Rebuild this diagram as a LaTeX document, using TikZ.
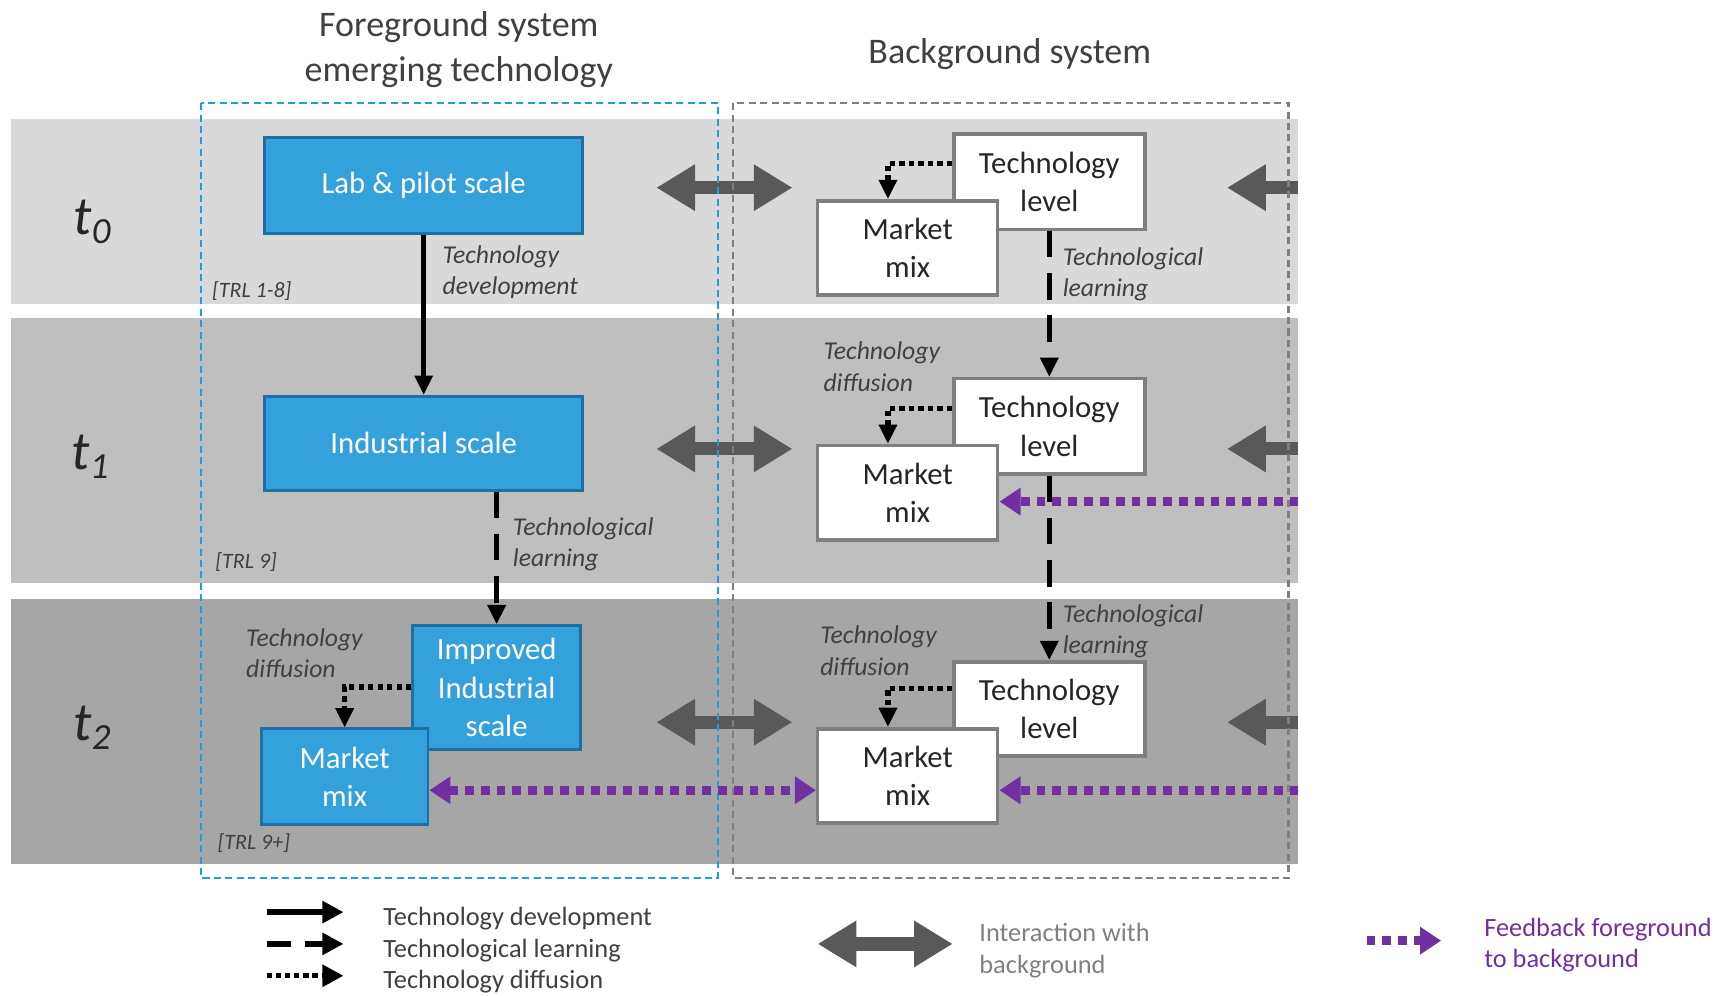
\documentclass[tikz,border=0pt]{standalone}
\usepackage{fontspec}
\setmainfont{Carlito}
\usetikzlibrary{arrows.meta}
\definecolor{bandA}{HTML}{D9D9D9}
\definecolor{bandB}{HTML}{BFBFBF}
\definecolor{bandC}{HTML}{A6A6A6}
\definecolor{fgblue}{HTML}{34A1DC}
\definecolor{fgborder}{HTML}{1F6FA3}
\definecolor{fgdash}{HTML}{1F9DE0}
\definecolor{bgdash}{HTML}{7F7F7F}
\definecolor{boxgray}{HTML}{7F7F7F}
\definecolor{txtdark}{HTML}{262626}
\definecolor{lblgray}{HTML}{404040}
\definecolor{arrgray}{HTML}{595959}
\definecolor{fbpurple}{HTML}{7030A0}
\definecolor{legray}{HTML}{808080}
\begin{document}
\begin{tikzpicture}[x=0.021952cm,y=-0.021952cm,
  fgbox/.style={draw=fgborder, line width=1.5pt, fill=fgblue, text=white,
    font=\fontsize{17.5}{21.8}\selectfont, align=center, inner sep=0pt},
  bgbox/.style={draw=boxgray, line width=2pt, fill=white, text=txtdark,
    font=\fontsize{17.5}{21.8}\selectfont, align=center, inner sep=0pt},
  lbl/.style={font=\fontsize{14.6}{18}\selectfont\itshape, text=lblgray, align=left, anchor=west, inner sep=0pt},
  trl/.style={font=\fontsize{12.5}{15}\selectfont\itshape, text=lblgray, anchor=west, inner sep=0pt},
  title/.style={font=\fontsize{20.5}{25.5}\selectfont, text=lblgray, align=center, inner sep=0pt},
  tlab/.style={font=\fontsize{31}{31}\selectfont\itshape, text=txtdark, inner sep=0pt},
  legtext/.style={font=\fontsize{15}{18}\selectfont, text=lblgray, align=left, anchor=west, inner sep=0pt},
  devarrow/.style={line width=2.5pt, -{Triangle[length=11pt,width=10pt]}},
  learnarrow/.style={line width=3pt, dash pattern=on 15pt off 9pt, -{Triangle[length=11pt,width=10pt]}},
  diffarrow/.style={line width=3pt, dash pattern=on 3pt off 2.4pt, -{Triangle[length=11pt,width=10pt]}},
  fbarrow/.style={draw=fbpurple, line width=5pt, dash pattern=on 5pt off 4pt, -{Triangle[length=12pt,width=15pt]}},
  fbdouble/.style={fbarrow, {Triangle[length=12pt,width=15pt]}-{Triangle[length=12pt,width=15pt]}},
  garrow/.style={draw=arrgray, line width=7.5pt, {Triangle[length=22pt,width=25pt]}-{Triangle[length=22pt,width=25pt]}},
  gleft/.style={draw=arrgray, line width=7.5pt, -{Triangle[length=22pt,width=25pt]}},
  fgframe/.style={draw=fgdash, line width=1.4pt, dash pattern=on 4pt off 2.5pt},
  bgframe/.style={draw=bgdash, line width=1.4pt, dash pattern=on 4pt off 2.5pt}
]
\useasboundingbox (0,0) rectangle (1568,907);

% bands
\fill[bandA] (10,108) rectangle (1183,277);
\fill[bandB] (10,290) rectangle (1183,531);
\fill[bandC] (10,546) rectangle (1183,787);

% titles
\node[title] (tfg) at (418,45) {Foreground system\\emerging technology};
\node[title] (tbg) at (920,49) {Background system};

% time labels
\node[tlab] (t0) at (84,202) {t\raisebox{-5pt}{\fontsize{21}{21}\selectfont 0}};
\node[tlab] (t1) at (82,416) {t\raisebox{-5pt}{\fontsize{21}{21}\selectfont 1}};
\node[tlab] (t2) at (84,663) {t\raisebox{-5pt}{\fontsize{21}{21}\selectfont 2}};

% interaction arrows
\coordinate (ia0l) at (598,171); \coordinate (ia0r) at (722,171);
\coordinate (ia1l) at (598,409); \coordinate (ia1r) at (722,409);
\coordinate (ia2l) at (598,658); \coordinate (ia2r) at (722,658);
\draw[garrow] (ia0l) -- (ia0r);
\draw[garrow] (ia1l) -- (ia1r);
\draw[garrow] (ia2l) -- (ia2r);
\coordinate (ra0s) at (1183,171); \coordinate (ra0e) at (1118,171);
\coordinate (ra1s) at (1183,409); \coordinate (ra1e) at (1118,409);
\coordinate (ra2s) at (1183,658); \coordinate (ra2e) at (1118,658);
\draw[gleft] (ra0s) -- (ra0e);
\draw[gleft] (ra1s) -- (ra1e);
\draw[gleft] (ra2s) -- (ra2e);

% frames
\draw[fgframe] (183,94) rectangle (654,800);
\draw[bgframe] (668,94) rectangle (1174,800);

% foreground boxes
\node[fgbox, minimum width=6.366cm, minimum height=1.932cm] (lab) at (386,169) {Lab \& pilot scale};
\node[fgbox, minimum width=6.366cm, minimum height=1.888cm] (ind) at (386,404) {Industrial scale};
\node[fgbox, minimum width=3.359cm, minimum height=2.481cm] (imp) at (452.5,626.5) {Improved\\Industrial\\scale};
\node[fgbox, minimum width=3.337cm, minimum height=1.910cm] (fmm) at (314,707.5) {Market\\mix};

% background boxes
\node[bgbox, minimum width=3.820cm, minimum height=1.910cm] (tl0) at (956,165.5) {Technology\\level};
\node[bgbox, minimum width=3.600cm, minimum height=1.888cm] (mm0) at (827,226) {Market\\mix};
\node[bgbox, minimum width=3.820cm, minimum height=1.910cm] (tl1) at (956,388.5) {Technology\\level};
\node[bgbox, minimum width=3.600cm, minimum height=1.888cm] (mm1) at (827,449) {Market\\mix};
\node[bgbox, minimum width=3.820cm, minimum height=1.888cm] (tl2) at (956,646) {Technology\\level};
\node[bgbox, minimum width=3.600cm, minimum height=1.888cm] (mm2) at (827,707) {Market\\mix};

% TRL labels
\node[trl] (trl0) at (193,265) {[TRL 1-8]};
\node[trl] (trl1) at (196,512) {[TRL 9]};
\node[trl] (trl2) at (198,768) {[TRL 9+]};

% foreground connectors
\draw[devarrow] (lab.south) -- (ind.north);
\draw[learnarrow] (imp.north |- ind.south) -- (imp.north);
\coordinate (fd) at (314,626);
\draw[diffarrow] (imp.west |- fd) -- (fd) -- (fmm.north);

% background connectors
\draw[learnarrow] (tl0.south) -- (tl1.north);
\draw[learnarrow] (tl1.south) -- (tl2.north);
\coordinate (d0) at (809,149);
\coordinate (d1) at (809,372);
\coordinate (d2) at (809,627);
\draw[diffarrow] (tl0.west |- d0) -- (d0) -- (d0 |- mm0.north);
\draw[diffarrow] (tl1.west |- d1) -- (d1) -- (d1 |- mm1.north);
\draw[diffarrow] (tl2.west |- d2) -- (d2) -- (d2 |- mm2.north);

% feedback arrows
\coordinate (fb1) at (1183,457);
\coordinate (fb2) at (1183,720);
\coordinate (fbm) at (0,720);
\draw[fbarrow] (fb1) -- (fb1 -| mm1.east);
\draw[fbarrow] (fb2) -- (fb2 -| mm2.east);
\draw[fbdouble] (fmm.east |- fbm) -- (mm2.west |- fbm);

% labels
\node[lbl] (ldev) at (403,248) {Technology\\development};
\node[lbl] (llearnf) at (467,496) {Technological\\learning};
\node[lbl] (ldifff) at (224,595) {Technology\\diffusion};
\node[lbl] (llearn0) at (968,250) {Technological\\learning};
\node[lbl] (ldiff1) at (750,334) {Technology\\diffusion};
\node[lbl] (llearn1) at (968,575) {Technological\\learning};
\node[lbl] (ldiff2) at (747,593) {Technology\\diffusion};

% legend
\coordinate (k1a) at (243,831); \coordinate (k1b) at (313,831);
\coordinate (k2a) at (243,860); \coordinate (k2b) at (313,860);
\coordinate (k3a) at (243,889); \coordinate (k3b) at (313,889);
\draw[line width=3pt, -{Triangle[length=12pt,width=12pt]}] (k1a) -- (k1b);
\draw[line width=3pt, dash pattern=on 14pt off 8pt, -{Triangle[length=12pt,width=12pt]}] (k2a) -- (k2b);
\draw[line width=3pt, dash pattern=on 3pt off 2.2pt, -{Triangle[length=12pt,width=12pt]}] (k3a) -- (k3b);
\node[legtext] (lk1) at (349,837) {Technology development};
\node[legtext] (lk2) at (349,866) {Technological learning};
\node[legtext] (lk3) at (349,894) {Technology diffusion};
\coordinate (k4a) at (745,860); \coordinate (k4b) at (868,860);
\draw[garrow] (k4a) -- (k4b);
\node[legtext, text=legray] (lk4) at (892,866) {Interaction with\\background};
\coordinate (k5a) at (1245,857); \coordinate (k5b) at (1313,857);
\draw[fbarrow] (k5a) -- (k5b);
\node[legtext, text=fbpurple] (lk5) at (1352,861) {Feedback foreground\\to background};
\end{tikzpicture}
\end{document}
